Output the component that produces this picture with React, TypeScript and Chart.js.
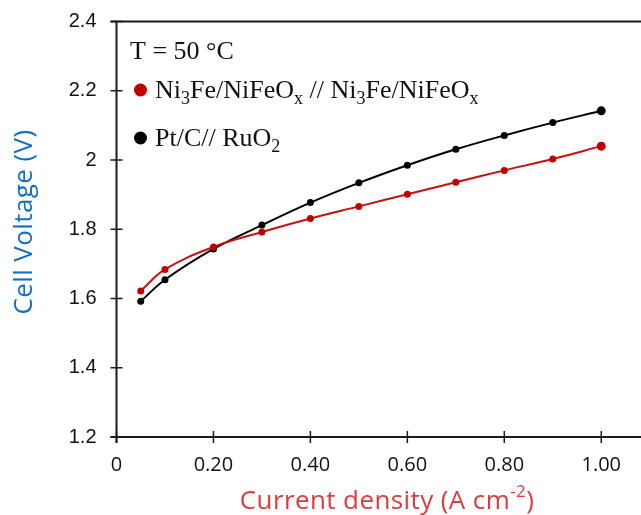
import React, { useEffect, useRef } from "react";
import { Chart, registerables } from "chart.js";

Chart.register(...registerables);

// ---- data ----
const currentDensity = [0.05, 0.1, 0.2, 0.3, 0.4, 0.5, 0.6, 0.7, 0.8, 0.9, 1.0];
const ni3feVoltage = [1.622, 1.684, 1.749, 1.792, 1.831, 1.866, 1.901, 1.936, 1.970, 2.003, 2.040];
const ptcVoltage = [1.592, 1.654, 1.743, 1.812, 1.877, 1.934, 1.985, 2.031, 2.071, 2.108, 2.142];
const xTickValues = [0, 0.2, 0.4, 0.6, 0.8, 1.0];
const yTickValues = [1.2, 1.4, 1.6, 1.8, 2.0, 2.2, 2.4];
const legendTitle = "T = 50 °C";
const seriesNames = ["Ni3Fe/NiFeOx // Ni3Fe/NiFeOx", "Pt/C// RuO2"];
const xTitle = "Current density (A cm";
const xTitleSup = "-2";
const yTitle = "Cell Voltage (V)";

const RED = "#c00000";
const RED_LINE = "#c81010";
const BLACK = "#000000";
const AXIS = "#1a1a1a";

// draws text where digits after letters and x after O become subscripts
function drawChem(ctx: CanvasRenderingContext2D, text: string, x: number, y: number, size: number) {
  const base = `${size}px "Liberation Serif", "Times New Roman", serif`;
  const sub = `${Math.round(size * 0.7)}px "Liberation Serif", "Times New Roman", serif`;
  let cx = x;
  for (let i = 0; i < text.length; i++) {
    const ch = text[i];
    const prev = i > 0 ? text[i - 1] : "";
    const isSub = (/[0-9]/.test(ch) && /[A-Za-z]/.test(prev)) || (ch === "x" && prev === "O");
    ctx.font = isSub ? sub : base;
    ctx.fillText(ch, cx, isSub ? y + size * 0.22 : y);
    cx += ctx.measureText(ch).width;
  }
}

const decorPlugin = {
  id: "decor",
  afterDraw(chart: any) {
    const ctx: CanvasRenderingContext2D = chart.ctx;
    const xs = chart.scales.x;
    const ys = chart.scales.y;
    const { left, top, bottom } = chart.chartArea;
    const right = chart.width;
    ctx.save();
    ctx.strokeStyle = AXIS;
    ctx.lineWidth = 2;
    ctx.beginPath();
    ctx.moveTo(left, top);
    ctx.lineTo(left, bottom + 6);
    ctx.moveTo(left - 6, bottom);
    ctx.lineTo(right, bottom);
    ctx.moveTo(left - 6, top);
    ctx.lineTo(right, top);
    ctx.stroke();
    ctx.lineWidth = 1.5;
    ctx.beginPath();
    yTickValues.forEach((v) => {
      const py = ys.getPixelForValue(v);
      ctx.moveTo(left - 6, py);
      ctx.lineTo(left + 6, py);
    });
    xTickValues.forEach((v) => {
      const px = xs.getPixelForValue(v);
      ctx.moveTo(px, bottom - 6);
      ctx.lineTo(px, bottom + 6);
    });
    ctx.stroke();

    // legend
    ctx.fillStyle = "#111";
    ctx.textBaseline = "alphabetic";
    ctx.textAlign = "left";
    ctx.font = `26px "Liberation Serif", serif`;
    ctx.fillText(legendTitle, 130, 59);
    const colors = [RED, BLACK];
    const baselines = [98, 146];
    seriesNames.forEach((name, i) => {
      ctx.fillStyle = colors[i];
      ctx.beginPath();
      ctx.arc(140.5, baselines[i] - 8, 6.5, 0, Math.PI * 2);
      ctx.fill();
      ctx.fillStyle = "#111";
      drawChem(ctx, name, 155, baselines[i], 26);
    });

    // x title
    const tfont = `26px "Open Sans", sans-serif`;
    const sfont = `17px "Open Sans", sans-serif`;
    (ctx as any).letterSpacing = "0.4px";
    ctx.font = tfont;
    const w1 = ctx.measureText(xTitle).width;
    ctx.font = sfont;
    const w2 = ctx.measureText(xTitleSup).width;
    ctx.font = tfont;
    const w3 = ctx.measureText(")").width;
    const total = w1 + w2 + w3;
    let sx = 387 - total / 2;
    ctx.fillStyle = "#dc3c3c";
    ctx.fillText(xTitle, sx, 509);
    sx += w1;
    ctx.font = sfont;
    ctx.fillText(xTitleSup, sx, 497);
    sx += w2;
    ctx.font = tfont;
    ctx.fillText(")", sx, 509);

    // y title
    ctx.save();
    ctx.translate(25, 222);
    ctx.rotate(-Math.PI / 2);
    ctx.textAlign = "center";
    ctx.textBaseline = "middle";
    ctx.fillStyle = "#0f6fc6";
    ctx.font = tfont;
    ctx.fillText(yTitle, 0, 0);
    ctx.restore();

    ctx.restore();
  },
};

export default function App() {
  const ref = useRef<HTMLCanvasElement | null>(null);
  useEffect(() => {
    if (!ref.current) return;
    const last = currentDensity.length - 1;
    const chart = new Chart(ref.current, {
      type: "line",
      data: {
        datasets: [
          {
            label: seriesNames[0],
            data: currentDensity.map((x, i) => ({ x, y: ni3feVoltage[i] })),
            borderColor: RED_LINE,
            backgroundColor: RED,
            borderWidth: 2,
            pointRadius: (c: any) => (c.dataIndex === last ? 4.5 : 3.5),
            pointBorderWidth: 0,
            tension: 0.4,
            clip: false,
          },
          {
            label: seriesNames[1],
            data: currentDensity.map((x, i) => ({ x, y: ptcVoltage[i] })),
            borderColor: BLACK,
            backgroundColor: BLACK,
            borderWidth: 2,
            pointRadius: (c: any) => (c.dataIndex === last ? 4.5 : 3.5),
            pointBorderWidth: 0,
            tension: 0.4,
            clip: false,
          },
        ],
      },
      options: {
        animation: false,
        responsive: false,
        layout: { autoPadding: false, padding: { top: 21.5, right: 0, left: 0, bottom: 0 } },
        plugins: { legend: { display: false }, tooltip: { enabled: false } },
        scales: {
          x: {
            type: "linear",
            min: 0,
            max: 1.082,
            grid: { display: false },
            border: { display: false },
            afterBuildTicks: (s: any) => {
              s.ticks = xTickValues.map((v) => ({ value: v }));
            },
            afterFit: (s: any) => {
              s.height = 78;
              s.paddingRight = 0;
              s.paddingLeft = 0;
            },
            ticks: {
              padding: 8,
              maxRotation: 0,
              autoSkip: false,
              color: "#111",
              font: { family: "'Open Sans', sans-serif", size: 20 },
              callback: (v: any) => (Number(v) === 0 ? "0" : Number(v).toFixed(2)),
            },
          },
          y: {
            type: "linear",
            min: 1.2,
            max: 2.4,
            grid: { display: false },
            border: { display: false },
            afterBuildTicks: (s: any) => {
              s.ticks = yTickValues.map((v) => ({ value: v }));
            },
            afterFit: (s: any) => {
              s.width = 116.5;
              s.paddingTop = 0;
              s.paddingBottom = 0;
            },
            ticks: {
              padding: 12,
              color: "#111",
              font: { family: "'Liberation Sans', Arial, sans-serif", size: 20 },
              callback: (v: any) => String(Number(Number(v).toFixed(1))),
            },
          },
        },
      },
      plugins: [decorPlugin],
    } as any);
    return () => chart.destroy();
  }, []);
  return (
    <div style={{ position: "absolute", left: 0, top: 0, width: 641, height: 515, background: "#fff" }}>
      <canvas ref={ref} width={641} height={515} style={{ display: "block" }} />
    </div>
  );
}
